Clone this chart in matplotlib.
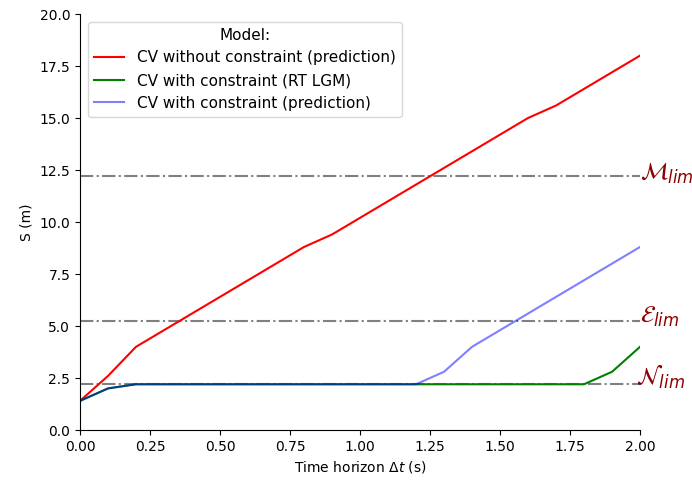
import numpy as np
import matplotlib
matplotlib.use("Agg")
import matplotlib.pyplot as plt

# data
t = [0.0, 0.1, 0.2, 0.3, 0.4, 0.5, 0.6, 0.7, 0.8, 0.9, 1.0,
     1.1, 1.2, 1.3, 1.4, 1.5, 1.6, 1.7, 1.8, 1.9, 2.0]
s_free = [1.4, 2.6, 4.0, 4.8, 5.6, 6.4, 7.2, 8.0, 8.8, 9.4, 10.2,
          11.0, 11.8, 12.6, 13.4, 14.2, 15.0, 15.6, 16.4, 17.2, 18.0]
s_rt = [1.4, 2.0, 2.2, 2.2, 2.2, 2.2, 2.2, 2.2, 2.2, 2.2, 2.2,
        2.2, 2.2, 2.2, 2.2, 2.2, 2.2, 2.2, 2.2, 2.8, 4.0]
s_pred = [1.4, 2.0, 2.2, 2.2, 2.2, 2.2, 2.2, 2.2, 2.2, 2.2, 2.2,
          2.2, 2.2, 2.8, 4.0, 4.8, 5.6, 6.4, 7.2, 8.0, 8.8]

limits = [12.2, 5.25, 2.2]
limit_labels = [r"$\mathcal{M}_{lim}$", r"$\mathcal{E}_{lim}$", r"$\mathcal{N}_{lim}$"]

fig = plt.figure(figsize=(6.92, 4.83), dpi=100)
ax = fig.add_axes([0.1156, 0.1097, 0.8093, 0.8613])

for y in limits:
    ax.plot([0, 2.0], [y, y], color="gray", linestyle="-.", linewidth=1.5)

ax.plot(t, s_free, color="red", label="CV without constraint (prediction)")
ax.plot(t, s_rt, color="green", label="CV with constraint (RT LGM)")
ax.plot(t, s_pred, color="blue", alpha=0.5, label="CV with constraint (prediction)")

offsets = [(2.0, 0.15), (2.0, 0.2), (1.985, 0.35)]
for (x, dy), y, lab in zip(offsets, limits, limit_labels):
    ax.text(x, y + dy, lab, color="darkred", fontsize=17, va="center", ha="left",
            clip_on=False)

ax.set_xlim(0, 2.0)
ax.set_ylim(0, 20)
ax.spines["top"].set_visible(False)
ax.spines["right"].set_visible(False)
ax.set_xlabel(r"Time horizon $\Delta t$ (s)")
ax.set_ylabel("S (m)")
ax.legend(title="Model:", loc="upper left", fontsize=11, title_fontsize=11)

plt.savefig("out.png", dpi=100)
